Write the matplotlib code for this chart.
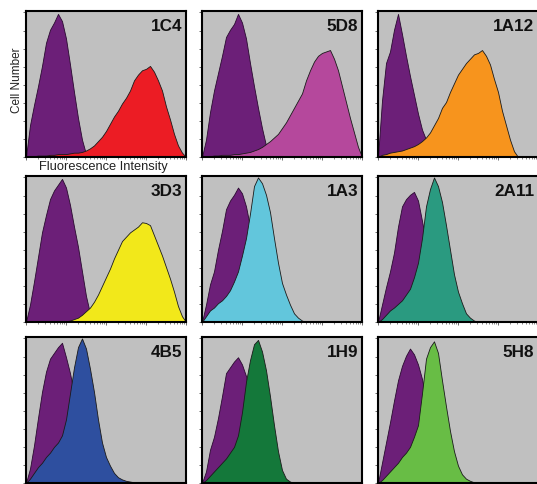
import matplotlib
matplotlib.use("Agg")
import matplotlib.pyplot as plt
from matplotlib.ticker import LogLocator, NullFormatter, MultipleLocator

# fluorescence channel, in decades (log10), shared by all histograms
decades = [0.0, 0.1, 0.2, 0.3, 0.4, 0.5, 0.6, 0.7, 0.8, 0.9,
           1.0, 1.1, 1.2, 1.3, 1.4, 1.5, 1.6, 1.7, 1.8, 1.9,
           2.0, 2.1, 2.2, 2.3, 2.4, 2.5, 2.6, 2.7, 2.8, 2.9,
           3.0, 3.1, 3.2, 3.3, 3.4, 3.5, 3.6, 3.7, 3.8, 3.9, 4.0]

clones = ["1C4", "5D8", "1A12", "3D3", "1A3", "2A11", "4B5", "1H9", "5H8"]

# isotype control histograms (% of max cell number)
ctrl_1C4 = [0, 22, 36, 49, 63, 79, 88, 93, 99, 94, 82, 64, 45, 27, 12, 2]
ctrl_5D8 = [0, 12, 31, 46, 58, 70, 83, 88, 92, 99, 93, 82, 65, 49, 34, 20, 8, 2]
ctrl_1A12 = [0, 39, 65, 73, 88, 99, 85, 70, 56, 43, 30, 19, 12, 5, 1]
ctrl_3D3 = [0, 12, 28, 45, 62, 74, 85, 91, 95, 99, 93, 81, 66, 52, 35, 18, 6, 1]
ctrl_1A3 = [0, 12, 26, 35, 50, 63, 78, 84, 88, 93, 89, 80, 66, 50, 33, 18, 8, 2]
ctrl_2A11 = [0, 12, 24, 35, 48, 66, 80, 85, 88, 90, 84, 70, 55, 40, 25, 12, 5, 1]
ctrl_4B5 = [0, 10, 26, 45, 63, 77, 86, 90, 94, 97, 87, 76, 62, 46, 30, 16, 6, 1]
ctrl_1H9 = [0, 8, 23, 32, 45, 60, 76, 80, 84, 87, 82, 74, 60, 44, 28, 14, 5, 1]
ctrl_5H8 = [0, 14, 28, 42, 57, 71, 81, 88, 93, 89, 82, 72, 58, 42, 27, 14, 5, 1]

# antibody-stained histograms (% of max cell number)
stain_1C4 = [0, 0.5, 0.5, 1, 1, 1, 1.5, 1.5, 2, 2, 2, 2.5, 3, 3, 3.5, 4.5, 6, 8, 11, 14,
             18, 23, 28, 32, 37, 41, 46, 53, 57, 60, 61, 63, 59, 53, 46, 35, 26, 16, 8, 3, 0]
stain_5D8 = [0, 0.5, 0.5, 1, 1, 1.5, 1.5, 1.5, 2, 2, 2.5, 3, 3.5, 4.5, 5.5, 7, 9, 11, 13.5, 16,
             20, 24, 29, 34, 39, 44, 53, 60, 66, 70, 72, 73, 74, 68, 60, 49, 38, 27, 17, 7, 0]
stain_1A12 = [0, 1.5, 2, 3, 3.5, 4, 4.5, 5.5, 6.5, 7.5, 9, 11, 13.5, 17, 22, 27, 34, 38, 45, 51,
              57, 61, 65, 68, 71, 72, 74, 70, 64, 54, 45, 32, 22, 12, 4, 0]
stain_3D3 = [0, 0, 0, 0, 0, 0, 0, 0, 0, 0, 0.5, 1, 2, 3, 5, 7.5, 10, 14, 19, 25,
             31, 37, 44, 50, 56, 59, 62, 64, 66, 69, 68.5, 67, 60, 53, 46, 38, 30, 21, 11, 4, 0]
stain_1A3 = [0, 4, 8, 10, 13, 15, 18, 22, 28, 35, 46, 58, 75, 94, 100, 96, 88, 76, 58, 41,
             27, 19, 12, 6, 3, 1]
stain_2A11 = [0, 2, 5, 8, 10, 12.5, 15, 19, 23, 31, 41, 58, 80, 92, 100, 94, 83, 67, 50, 33,
              21, 13, 6, 3, 1]
stain_4B5 = [0, 3, 7, 11, 14, 18, 21, 25, 28, 33, 44, 62, 80, 94, 100, 93, 79, 63, 44, 28,
             18, 12, 7, 4, 2.5, 1.5, 1, 0.5]
stain_1H9 = [0, 2, 5, 8, 11, 14, 17, 21, 25, 33, 49, 70, 85, 96, 99, 91, 78, 60, 40, 22,
             9, 3, 1]
stain_5H8 = [0, 2, 5, 8, 11, 14, 18, 21, 25, 32, 40, 62, 86, 94, 98, 90, 71, 53, 36, 22,
             12, 6, 3, 1.5, 0.5]

controls = [ctrl_1C4, ctrl_5D8, ctrl_1A12, ctrl_3D3, ctrl_1A3, ctrl_2A11, ctrl_4B5, ctrl_1H9, ctrl_5H8]
stains = [stain_1C4, stain_5D8, stain_1A12, stain_3D3, stain_1A3, stain_2A11, stain_4B5, stain_1H9, stain_5H8]
colors = ["#ec1c24", "#b5489c", "#f7941d", "#f2e81a", "#62c6dc",
          "#2a9a80", "#2e4f9f", "#14783a", "#68bd45"]
ctrl_color = "#6c1f78"
bg = "#c0c0c0"


def pad(vals):
    # histograms are zero beyond the last listed channel
    return list(vals) + [0] * (len(decades) - len(vals))


plt.rcParams["font.family"] = ["Liberation Sans", "DejaVu Sans"]
fig = plt.figure(figsize=(5.37, 4.85), dpi=100)
W, H = 537, 485
col_left = [26, 202, 378]
row_top = [12, 177, 338]
pw, ph = 160, 146

x = [10 ** d for d in decades]
for i, name in enumerate(clones):
    r, c = divmod(i, 3)
    ax = fig.add_axes([col_left[c] / W, 1 - (row_top[r] + ph) / H, pw / W, ph / H])
    ax.set_facecolor(bg)
    ax.fill_between(x, pad(controls[i]), 0, facecolor=ctrl_color,
                    edgecolor="#2a0a30", lw=0.6, zorder=2)
    ax.fill_between(x, pad(stains[i]), 0, facecolor=colors[i],
                    edgecolor="#1a1a1a", lw=0.6, zorder=3)
    ax.set_xscale("log")
    ax.set_xlim(1, 1e4)
    ax.set_ylim(0, 101)
    ax.xaxis.set_major_locator(LogLocator(base=10, numticks=10))
    ax.xaxis.set_minor_locator(LogLocator(base=10, subs=range(2, 10), numticks=10))
    ax.xaxis.set_major_formatter(NullFormatter())
    ax.xaxis.set_minor_formatter(NullFormatter())
    ax.yaxis.set_major_locator(MultipleLocator(12.5))
    ax.yaxis.set_major_formatter(NullFormatter())
    ax.tick_params(axis="both", which="major", direction="out", length=2.5,
                   width=0.6, color="#555555")
    ax.tick_params(axis="x", which="minor", direction="out", length=1.5,
                   width=0.5, color="#555555")
    for s in ax.spines.values():
        s.set_linewidth(1.5)
        s.set_zorder(5)
    ax.text(0.975, 0.955, name, transform=ax.transAxes, ha="right", va="top",
            fontsize=12.3, fontweight="bold", color="#111111", zorder=6)

fig.text(17 / W, 1 - 80 / H, "Cell Number", rotation=90, ha="center", va="center",
         fontsize=8.5, color="#222222")
fig.text(103 / W, 1 - 167 / H, "Fluorescence Intensity", ha="center", va="center",
         fontsize=9.3, color="#222222", zorder=10)

fig.savefig("out.png", dpi=100)
